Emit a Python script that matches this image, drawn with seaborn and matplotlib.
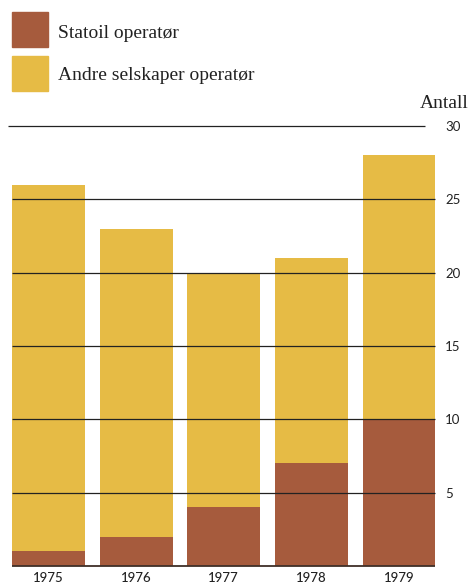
import pandas as pd
import matplotlib
matplotlib.use('Agg')
import matplotlib.pyplot as plt
import seaborn as sns
from matplotlib.patches import Rectangle

# Data
aar = ['1975', '1976', '1977', '1978', '1979']
totalt = [26, 23, 20, 21, 28]
statoil = [1, 2, 4, 7, 10]
y_ticks = [5, 10, 15, 20, 25, 30]

brun = '#a65b3d'
gul = '#e6bb45'

df = pd.DataFrame({'aar': aar, 'totalt': totalt, 'statoil': statoil})

sns.set_style('white')
plt.rcParams['font.family'] = ['DejaVu Sans']

W, H = 470, 584
fig = plt.figure(figsize=(W / 100, H / 100), dpi=100)

# axes in pixel coords: x 0..437, y 126..566
ax = fig.add_axes([0, (H - 566) / H, 437 / W, (566 - 126) / H])

bredde = 0.83
sns.barplot(data=df, x='aar', y='totalt', color=gul, width=bredde,
            saturation=1, linewidth=0, ax=ax, zorder=1)
sns.barplot(data=df, x='aar', y='statoil', color=brun, width=bredde,
            saturation=1, linewidth=0, ax=ax, zorder=2)

ax.set_ylim(0, 30)
ax.set_xlim(-0.554, 4 + (437 - 399) / 87.6)

# grid lines over the bars
venstre = -bredde / 2
hoyre = 4 + bredde / 2
ax.hlines(y_ticks[:-1], venstre, hoyre, color='#222222', lw=0.9, zorder=5)
ax.hlines(30, -0.554 + 8 / 87.6, -0.554 + 425 / 87.6, color='#222222',
          lw=0.9, zorder=5, clip_on=False)
ax.hlines(0, venstre, hoyre, color='#3f2f28', lw=1.3, zorder=5, clip_on=False)

for s in ax.spines.values():
    s.set_visible(False)

ax.yaxis.tick_right()
ax.set_yticks(y_ticks)
ax.set_yticklabels([str(v) for v in y_ticks], fontsize=9.5, color='#222222',
                   family='Lato')
ax.tick_params(axis='y', length=0, pad=6)
ax.tick_params(axis='x', length=0, pad=4, labelsize=9.5, labelcolor='#222222')
for t in ax.get_xticklabels():
    t.set_family('Lato')
    t.set_weight('medium')
ax.set_xlabel('')
ax.set_ylabel('')

# legend drawn by hand
fig.patches.append(Rectangle((12 / W, 1 - 47 / H), 36 / W, 35 / H,
                             transform=fig.transFigure, color=brun))
fig.patches.append(Rectangle((12 / W, 1 - 91 / H), 36 / W, 35 / H,
                             transform=fig.transFigure, color=gul))
fig.text(58 / W, 1 - 33 / H, 'Statoil operatør', family='Liberation Serif',
         fontsize=14, va='center', ha='left', color='#222222')
fig.text(58 / W, 1 - 75 / H, 'Andre selskaper operatør', family='Liberation Serif',
         fontsize=14, va='center', ha='left', color='#222222')
fig.text(469 / W, 1 - 103 / H, 'Antall', family='Liberation Serif',
         fontsize=14, va='center', ha='right', color='#222222')

fig.savefig('out.png', dpi=100)
